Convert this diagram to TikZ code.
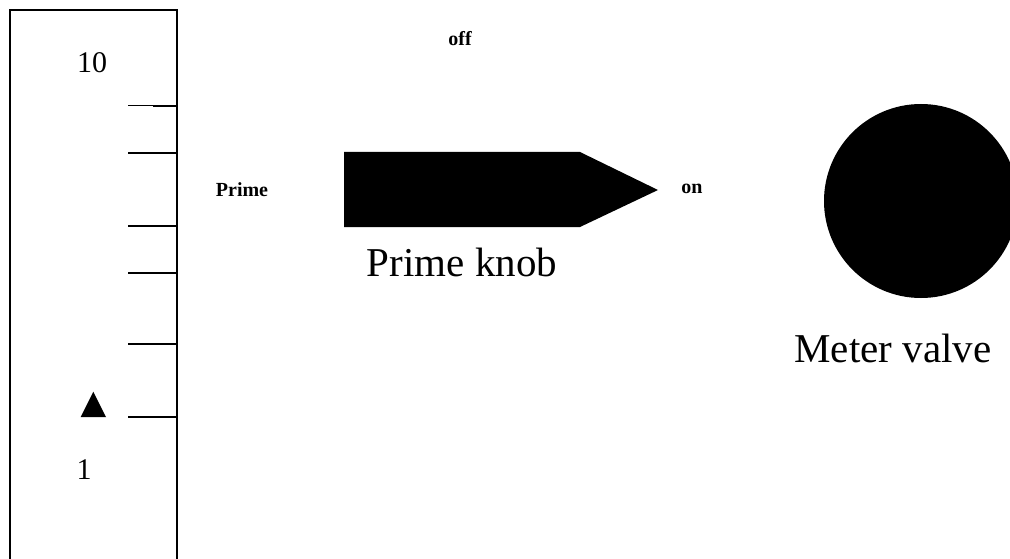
\documentclass[tikz,border=0pt]{standalone}
\usepackage{fontspec}
\setmainfont{Liberation Serif}
\usetikzlibrary{shapes}

\begin{document}
\begin{tikzpicture}[x=1pt,y=-1pt]
      \tikzstyle{every node}+=[inner sep=0pt]
      \tikzstyle{big}=[font=\fontsize{41}{49}\selectfont]
      \tikzstyle{scalenum}=[font=\fontsize{30}{36}\selectfont]
      \tikzstyle{small}=[font=\fontsize{20}{24}\selectfont\bfseries]
      \useasboundingbox (0,0) rectangle (1010,559);
      \draw [black, line width=2pt] (9.5,559) -- (9.5,10) -- (177,10) -- (177,559);
      \draw [black, line width=1pt] (128,106) -- (153,106);
      \draw [black, line width=2pt] (153,106) -- (177,106);
      \foreach \y in {153,225.5,272.5,344,416.5}
        \draw [black, line width=2pt] (128,\y) -- (177,\y);
      \fill [black] (80.7,417) -- (106,417) -- (93.3,391.7) -- cycle;
      \node [scalenum, anchor=base] (top) at (92,73) {10};
      \node [scalenum, anchor=base] (bottom) at (84,479) {1};
      \node [small] (prime) at (242,190) {Prime};
      \node [small] (off) at (460,39) {off};
      \node [small] (on) at (692,188.5) {on};
      \fill [black] (344,152) -- (580,152) -- (658,190) -- (580,227) -- (344,227) -- cycle;
      \node [big, anchor=base] (knob) at (462,276) {Prime knob};
      \fill [black] (921,201) circle (97);
      \node [big, anchor=base] (valve) at (893,362) {Meter valve};
\end{tikzpicture}
\end{document}
